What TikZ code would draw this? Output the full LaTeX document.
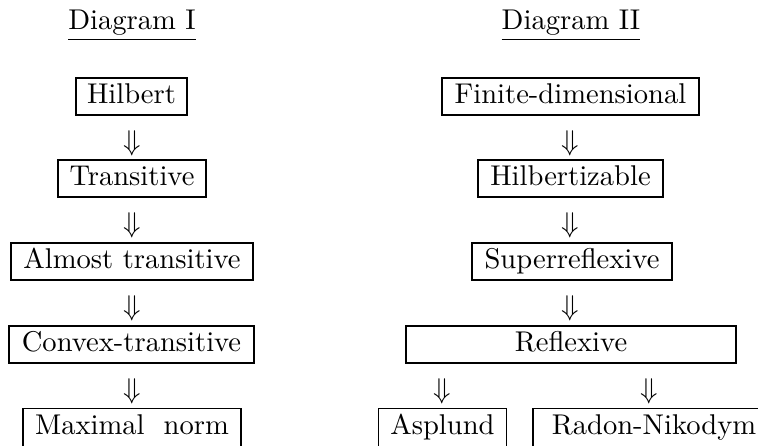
\documentclass[tikz,border=0pt]{standalone}
\usetikzlibrary{calc}
\begin{document}
\begin{tikzpicture}[x=0.35pt,y=-0.35pt,
  prop/.style={draw, line width=0.6pt, inner sep=0pt, text height=7pt, text depth=2.3pt,
               minimum height=12.95pt, minimum width=#1*0.35pt},
  lastprop/.style={prop=#1, minimum height=13.3pt},
  impl/.style={inner sep=0pt},
  title/.style={anchor=base, inner sep=0pt}]
\useasboundingbox (0,0) rectangle (758,445);
\clip (0,0) rectangle (758,445);
% Titles
\node[title] (t1) at (132,29.5) {\underline{Diagram I}};
\node[title] (t2) at (571,29.5) {\underline{Diagram II}};
% Diagram I
\node[prop=111] (hil) at (131.5,96.5) {Hilbert};
\node[prop=148] (tra) at (132,178.5) {Transitive};
\node[prop=242] (alm) at (132,261.5) {Almost transitive};
\node[prop=245] (con) at (131.5,344.5) {Convex-transitive};
\node[lastprop=218] (max) at (132,427.5) {Maximal\ \ norm};
\node[impl] (i1) at (132,143) {$\Downarrow$};
\node[impl] (i2) at (132,225.5) {$\Downarrow$};
\node[impl] (i3) at (132,308) {$\Downarrow$};
\node[impl] (i4) at (132,391) {$\Downarrow$};
% Diagram II
\node[prop=257] (fin) at (570.5,96.5) {Finite-dimensional};
\node[prop=185] (hz) at (570.5,178.5) {Hilbertizable};
\node[prop=200] (sup) at (572,261.5) {Superreflexive};
\node[prop=330] (ref) at (571,344.5) {Reflexive};
\node[lastprop=128] (asp) at (442.5,427.5) {Asplund};
\node[lastprop=242] (rad) at (654,427.5) {Radon-Nikodym};
\node[impl] (j1) at (570,143) {$\Downarrow$};
\node[impl] (j2) at (570,225.5) {$\Downarrow$};
\node[impl] (j3) at (570,308) {$\Downarrow$};
\node[impl] (j4) at (442,391) {$\Downarrow$};
\node[impl] (j5) at (649,391) {$\Downarrow$};
\end{tikzpicture}
\end{document}
